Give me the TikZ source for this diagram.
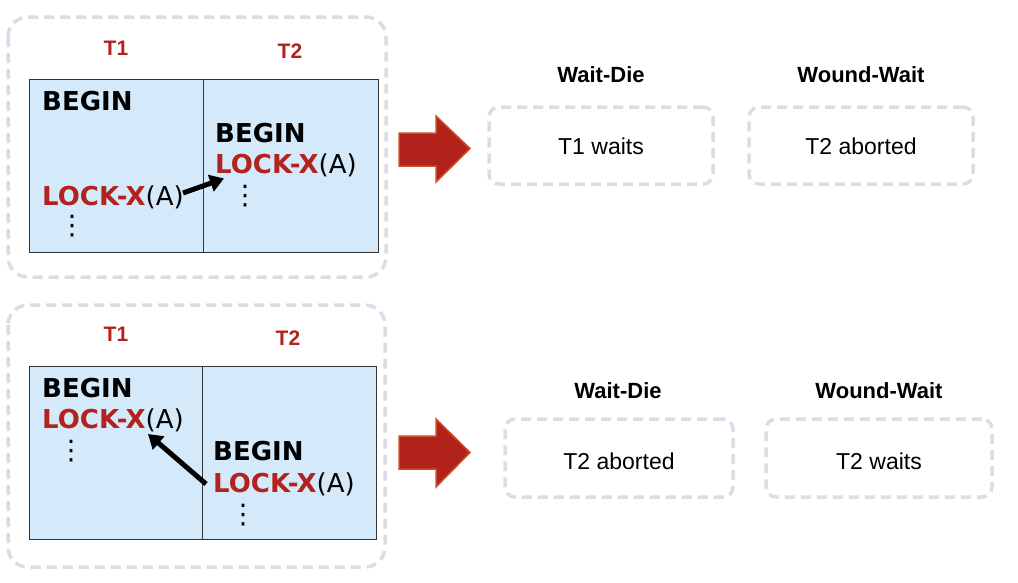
\documentclass[tikz,border=0pt]{standalone}
\usepackage{fontspec}
\setmainfont{Liberation Sans}
\newfontfamily\dvfont{DejaVu Sans}
\usetikzlibrary{arrows.meta}
\definecolor{dred}{RGB}{178,34,30}
\definecolor{dgray}{RGB}{220,220,233}
\definecolor{lblue}{RGB}{212,234,251}
\definecolor{afill}{RGB}{176,34,26}
\definecolor{aline}{RGB}{204,78,40}
\begin{document}
\begin{tikzpicture}[x=1pt,y=-1pt,
  panel/.style={draw=dgray, line width=3.5pt, dash pattern=on 10pt off 6pt, rounded corners=20pt},
  res/.style={draw=dgray, line width=3.5pt, dash pattern=on 10pt off 6pt, rounded corners=10pt, inner sep=0pt},
  tbl/.style={draw=black!80, fill=lblue, line width=0.9pt},
  tlabel/.style={anchor=base, inner sep=0pt, text=dred, font=\fontsize{21}{25}\selectfont\bfseries},
  hlabel/.style={anchor=base, inner sep=0pt, font=\fontsize{22}{26}\selectfont\bfseries},
  restext/.style={anchor=base, inner sep=0pt, font=\fontsize{23}{27}\selectfont},
  code/.style={anchor=base west, inner sep=0pt, font=\dvfont\fontsize{26}{30}\selectfont},
  vdot/.style={inner sep=0pt, font=\dvfont\fontsize{27}{30}\selectfont},
  big/.style={fill=afill, draw=aline, line width=1.5pt, line join=miter},
  dep/.style={-{Triangle[length=14pt,width=17pt]}, line width=5pt, black}
]
\useasboundingbox (0,0) rectangle (1018,582);
\newcommand{\lockx}{{\bfseries\color{dred}LOCK-X}(A)}

% ---------- top panel ----------
\draw[panel] (8,17) rectangle (386,277);
\draw[tbl] (29,79) rectangle (378,252);
\draw[black!80, line width=0.9pt] (203,79) -- (203,252);
\node[tlabel] (t1a) at (116,55) {T1};
\node[tlabel] (t2a) at (290,58) {T2};
\node[code] (b1a) at (42,110) {\bfseries BEGIN};
\node[code] (l1a) at (42,205) {\lockx};
\node[vdot] (d1a) at (72,226.5) {⋮};
\node[code] (b2a) at (215,142) {\bfseries BEGIN};
\node[code] (l2a) at (215,173) {\lockx};
\node[vdot] (d2a) at (245,196.5) {⋮};
\coordinate (sa) at (183,193);
\coordinate (ea) at (224,178.5);
\draw[dep] (sa) -- (ea);

\draw[big] (399,133) -- (436,133) -- (436,116) -- (470,148.5) -- (436,182) -- (436,166) -- (399,166) -- cycle;

\node[hlabel] (wdha) at (601,82) {Wait-Die};
\node[hlabel] (wwha) at (861,82) {Wound-Wait};
\node[res, minimum width=224pt, minimum height=77pt] (wda) at (601,145.5) {};
\node[res, minimum width=224pt, minimum height=77pt] (wwa) at (861,145.5) {};
\node[restext] at (601,154) {T1 waits};
\node[restext] at (861,154) {T2 aborted};

% ---------- bottom panel ----------
\draw[panel] (8,305) rectangle (385,567);
\draw[tbl] (29,366) rectangle (376,539);
\draw[black!80, line width=0.9pt] (202,366) -- (202,539);
\node[tlabel] (t1b) at (116,341) {T1};
\node[tlabel] (t2b) at (288,345) {T2};
\node[code] (b1b) at (42,397) {\bfseries BEGIN};
\node[code] (l1b) at (42,428) {\lockx};
\node[vdot] (d1b) at (71,451.5) {⋮};
\node[code] (b2b) at (213,460) {\bfseries BEGIN};
\node[code] (l2b) at (213,492) {\lockx};
\node[vdot] (d2b) at (243,515) {⋮};
\coordinate (sb) at (206,484);
\coordinate (eb) at (148,434);
\draw[dep] (sb) -- (eb);

\draw[big] (399,436) -- (436,436) -- (436,419) -- (470,452.5) -- (436,487) -- (436,469) -- (399,469) -- cycle;

\node[hlabel] (wdhb) at (618,398) {Wait-Die};
\node[hlabel] (wwhb) at (879,398) {Wound-Wait};
\node[res, minimum width=228pt, minimum height=78pt] (wdb) at (619,458) {};
\node[res, minimum width=226pt, minimum height=78pt] (wwb) at (879,458) {};
\node[restext] at (619,469) {T2 aborted};
\node[restext] at (879,469) {T2 waits};
\end{tikzpicture}
\end{document}
